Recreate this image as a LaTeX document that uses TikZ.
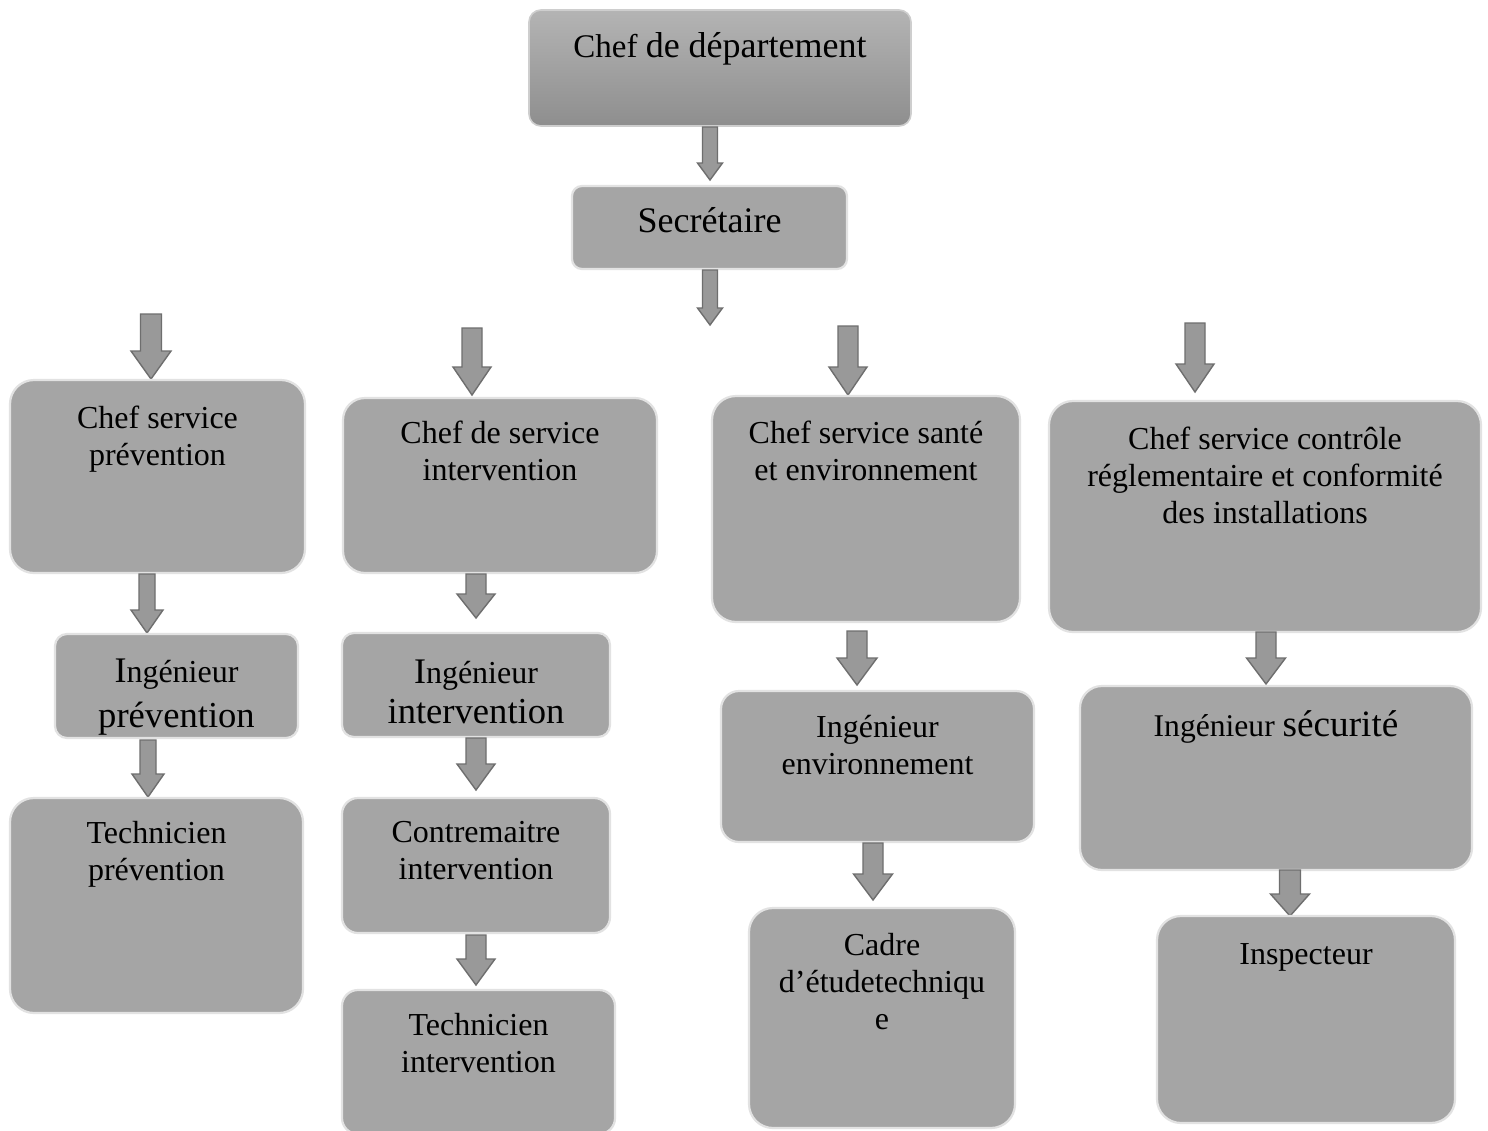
\documentclass[tikz,border=0pt]{standalone}
\usepackage{fontspec}
\setmainfont{Liberation Serif}
\definecolor{boxfill}{HTML}{A5A5A5}
\definecolor{boxline}{HTML}{E2E2E2}
\definecolor{arrfill}{HTML}{999999}
\definecolor{arrline}{HTML}{6E6E6E}
\definecolor{topA}{HTML}{B4B4B4}
\definecolor{topB}{HTML}{8E8E8E}
\newcommand\ml[1]{\vtop{\halign{\hfil##\hfil\cr#1\crcr}}}
% box: name, x1, y1, x2, y2, corner radius (pt)
\newcommand\bx[6]{\node[boxst, rounded corners=#6pt, minimum width={(#4-#2)*0.5pt}, minimum height={(#5-#3)*0.5pt}] (#1) at ({(#2+#4)/2},{(#3+#5)/2}) {};}
% block arrow: cx, ytop, ybot, head width, shaft width, head length
\newcommand\barw[6]{\draw[blockarrow] ({#1-#5/2},#2) -- ({#1+#5/2},#2) -- ({#1+#5/2},{#3-#6}) -- ({#1+#4/2},{#3-#6}) -- (#1,#3) -- ({#1-#4/2},{#3-#6}) -- ({#1-#5/2},{#3-#6}) -- cycle;}
\tikzset{
  boxst/.style={draw=boxline, line width=1.1pt, fill=boxfill, inner sep=0pt, shape=rectangle},
  blockarrow/.style={draw=arrline, line width=0.7pt, fill=arrfill, line join=miter},
  txt/.style={inner sep=0pt, anchor=base, text=black},
  nf/.style={font=\fontsize{16}{18.5}\selectfont}
}
\begin{document}
\begin{tikzpicture}[x=0.5pt,y=-0.5pt]
\useasboundingbox (0,0) rectangle (1488,1130);
\fill[white] (0,0) rectangle (1488,1130);

% top
\node[draw=boxline!80!gray, line width=0.8pt, top color=topA, bottom color=topB, rounded corners=6pt, inner sep=0pt,
  minimum width={382*0.5pt}, minimum height={116*0.5pt}] (chef) at (720,68) {};
\node[txt] (tchef) at (720,57) {{\fontsize{16.5}{18}\selectfont Chef }{\fontsize{18}{20}\selectfont de département}};
\barw{710}{127}{180}{25}{15}{17}
\bx{sec}{572}{186}{847}{269}{5}
\node[txt, font=\fontsize{18}{20}\selectfont] (tsec) at (709.5,232) {Secrétaire};
\barw{710}{270}{325}{25}{15}{17}

% column 1
\barw{151}{314}{379}{40}{21}{28}
\bx{ca}{10}{380}{305}{573}{12}
\node[txt, nf] (tca) at (157.5,428) {\ml{Chef service\cr prévention}};
\barw{147}{574}{633}{32}{16}{23}
\bx{ia}{55}{634}{298}{738}{6}
\node[txt, font=\fontsize{16}{22.5}\selectfont] (tia) at (176.5,682) {\ml{{\fontsize{18}{18}\selectfont I}ngénieur\cr {\fontsize{18.3}{18}\selectfont prévention}}};
\barw{148}{740}{797}{32}{16}{23}
\bx{ta}{10}{798}{303}{1013}{12}
\node[txt, nf] (tta) at (156.5,843) {\ml{Technicien\cr prévention}};

% column 2
\barw{472}{328}{395}{38}{20}{28}
\bx{cb}{343}{398}{657}{573}{11}
\node[txt, nf] (tcb) at (500,443) {\ml{Chef de service\cr intervention}};
\barw{476}{574}{618}{38}{20}{24}
\bx{ib}{342}{633}{610}{737}{6}
\node[txt, font=\fontsize{16}{20}\selectfont] (tib) at (476,683) {\ml{{\fontsize{18}{18}\selectfont I}ngénieur\cr {\fontsize{18.3}{18}\selectfont intervention}}};
\barw{476}{738}{790}{38}{20}{26}
\bx{kb}{342}{798}{610}{933}{8}
\node[txt, nf] (tkb) at (476,842) {\ml{Contremaitre\cr intervention}};
\barw{476}{935}{985}{38}{20}{26}
\bx{tb}{342}{990}{615}{1134}{8}
\node[txt, nf] (ttb) at (478.5,1035) {\ml{Technicien\cr intervention}};

% column 3
\barw{848}{326}{395}{38}{20}{28}
\bx{cc}{712}{396}{1020}{622}{12}
\node[txt, nf] (tcc) at (866,443) {\ml{Chef service santé\cr et environnement}};
\barw{857}{631}{685}{40}{20}{27}
\bx{ic}{721}{691}{1034}{842}{9}
\node[txt, nf] (tic) at (877.5,737) {\ml{Ingénieur\cr environnement}};
\barw{873}{843}{900}{39}{20}{26}
\bx{kc}{749}{908}{1015}{1128}{12}
\node[txt, nf] (tkc) at (882,955) {\ml{Cadre\cr d’étudetechniqu\cr e}};

% column 4
\barw{1195}{323}{392}{38}{20}{28}
\bx{cd}{1049}{401}{1481}{632}{12}
\node[txt, nf] (tcd) at (1265,449) {\ml{Chef service contrôle\cr réglementaire et conformité\cr des installations}};
\barw{1266}{632}{684}{39}{20}{26}
\bx{id}{1080}{686}{1472}{870}{11}
\node[txt] (tid) at (1276,736) {{\fontsize{15.8}{18}\selectfont Ingénieur }{\fontsize{18.6}{20}\selectfont sécurité}};
\barw{1290}{870}{916}{39}{21}{22}
\bx{kd}{1157}{916}{1455}{1123}{12}
\node[txt, nf] (tkd) at (1306,964) {Inspecteur};
\end{tikzpicture}
\end{document}
